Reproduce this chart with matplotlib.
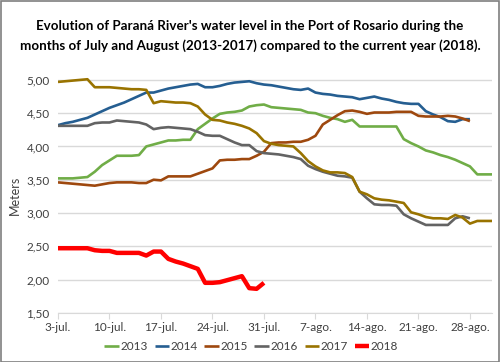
import matplotlib
matplotlib.use("Agg")
import matplotlib.pyplot as plt
from matplotlib.patches import Rectangle

# ---------------- data (days since 3-jul) ----------------
y2013 = [3.52, 3.52, 3.52, 3.53, 3.54, 3.62, 3.72, 3.79, 3.86, 3.86,
         3.86, 3.87, 4.00, 4.03, 4.06, 4.09, 4.09, 4.10, 4.10, 4.26,
         4.34, 4.42, 4.49, 4.51, 4.52, 4.54, 4.60, 4.62, 4.63, 4.59,
         4.58, 4.57, 4.56, 4.55, 4.51, 4.50, 4.46, 4.43, 4.41, 4.37,
         4.40, 4.30, 4.30, 4.30, 4.30, 4.30, 4.30, 4.11, 4.05, 4.00,
         3.94, 3.91, 3.87, 3.84, 3.80, 3.75, 3.70, 3.58, 3.58, 3.58]
y2014 = [4.32, 4.35, 4.37, 4.40, 4.43, 4.48, 4.53, 4.58, 4.62, 4.66,
         4.71, 4.76, 4.81, 4.81, 4.84, 4.87, 4.89, 4.91, 4.93, 4.94,
         4.89, 4.89, 4.91, 4.94, 4.96, 4.97, 4.98, 4.95, 4.93, 4.92,
         4.90, 4.88, 4.86, 4.85, 4.87, 4.81, 4.79, 4.78, 4.76, 4.75,
         4.74, 4.71, 4.73, 4.75, 4.72, 4.70, 4.67, 4.65, 4.64, 4.64,
         4.53, 4.48, 4.44, 4.38, 4.37, 4.41, 4.41]
y2015 = [3.46, 3.45, 3.44, 3.43, 3.42, 3.41, 3.43, 3.45, 3.46, 3.46,
         3.46, 3.45, 3.45, 3.50, 3.49, 3.55, 3.55, 3.55, 3.55, 3.59,
         3.63, 3.67, 3.79, 3.80, 3.80, 3.81, 3.81, 3.86, 3.92, 4.05,
         4.06, 4.06, 4.07, 4.07, 4.10, 4.16, 4.33, 4.40, 4.47, 4.53,
         4.54, 4.52, 4.49, 4.51, 4.51, 4.51, 4.52, 4.52, 4.52, 4.46,
         4.45, 4.45, 4.45, 4.46, 4.45, 4.42, 4.38]
y2016 = [4.31, 4.31, 4.31, 4.31, 4.31, 4.35, 4.36, 4.36, 4.39, 4.38,
         4.37, 4.36, 4.33, 4.26, 4.28, 4.29, 4.28, 4.27, 4.26, 4.22,
         4.17, 4.16, 4.16, 4.11, 4.06, 4.02, 4.02, 3.93, 3.90, 3.89,
         3.88, 3.86, 3.84, 3.81, 3.71, 3.66, 3.62, 3.59, 3.56, 3.55,
         3.53, 3.32, 3.22, 3.13, 3.12, 3.12, 3.11, 2.98, 2.92, 2.87,
         2.82, 2.82, 2.82, 2.82, 2.92, 2.95, 2.92]
y2017 = [4.97, 4.98, 4.99, 5.00, 5.01, 4.89, 4.89, 4.89, 4.88, 4.87,
         4.86, 4.86, 4.85, 4.65, 4.68, 4.67, 4.66, 4.66, 4.65, 4.60,
         4.48, 4.40, 4.39, 4.36, 4.34, 4.31, 4.27, 4.20, 4.08, 4.04,
         4.02, 4.01, 4.00, 3.90, 3.78, 3.70, 3.64, 3.61, 3.61, 3.60,
         3.54, 3.32, 3.28, 3.22, 3.20, 3.19, 3.17, 3.15, 3.01, 2.98,
         2.94, 2.92, 2.92, 2.91, 2.97, 2.93, 2.84, 2.88, 2.88, 2.88]
y2018 = [2.47, 2.47, 2.47, 2.47, 2.47, 2.44, 2.43, 2.43, 2.40, 2.40,
         2.40, 2.40, 2.36, 2.42, 2.42, 2.31, 2.27, 2.24, 2.20, 2.16,
         1.95, 1.95, 1.96, 1.99, 2.02, 2.05, 1.87, 1.86, 1.95]

series_names = ["2013", "2014", "2015", "2016", "2017", "2018"]
series_values = [y2013, y2014, y2015, y2016, y2017, y2018]
series_colors = ["#70AD47", "#255E91", "#9E480E", "#636363", "#997300", "#FF0000"]
series_widths = [1.9, 1.9, 1.9, 1.9, 1.9, 3.2]

tick_days = [0, 7, 14, 21, 28, 35, 42, 49, 56]
tick_labels = ["3-jul.", "10-jul.", "17-jul.", "24-jul.", "31-jul.",
               "7-ago.", "14-ago.", "21-ago.", "28-ago."]
y_ticks = [1.5, 2.0, 2.5, 3.0, 3.5, 4.0, 4.5, 5.0]

title = ("Evolution of Paraná River's water level in the Port of Rosario during the\n"
         "months of July and August (2013-2017) compared to the current year (2018).")

# ---------------- figure ----------------
plt.rcParams['font.family'] = ['Lato', 'DejaVu Sans']
fig = plt.figure(figsize=(5.0, 3.62), dpi=100)
fig.patches.append(Rectangle((0.001, 0.001), 0.996, 0.996, transform=fig.transFigure,
                             fill=False, edgecolor="#7F7F7F", linewidth=1.2))

ax = fig.add_axes([0.116, 0.136, 0.868, 0.68])
for name, vals, col, lw in zip(series_names, series_values, series_colors, series_widths):
    ax.plot(range(len(vals)), vals, color=col, linewidth=lw, label=name,
            solid_joinstyle='round', solid_capstyle='butt')

ax.set_xlim(0, 59)
ax.set_ylim(1.5, 5.2)
ax.set_yticks(y_ticks)
ax.set_yticklabels([f"{v:.2f}".replace(".", ",") for v in y_ticks])
ax.set_xticks(tick_days)
ax.set_xticklabels(tick_labels)
ax.grid(axis='y', color="#D9D9D9", linewidth=1.0)
ax.set_axisbelow(True)
for s in ['top', 'right', 'left']:
    ax.spines[s].set_visible(False)
ax.spines['bottom'].set_color("#D9D9D9")
ax.tick_params(axis='y', length=0, labelsize=8.5, colors="#404040", pad=6)
ax.tick_params(axis='x', length=4, color="#D9D9D9", labelsize=8.5,
               labelcolor="#404040", pad=3)

fig.text(0.5, 0.9, title, ha='center', va='center', fontsize=9.6,
         fontweight='bold', color="#000000", linespacing=1.65)
fig.text(0.03, 0.46, "Meters", rotation=90, ha='center', va='center',
         fontsize=9, color="#404040")

leg = fig.legend(loc='center', bbox_to_anchor=(0.502, 0.042), ncol=6, frameon=False,
                 fontsize=8.5, handlelength=1.2, handletextpad=0.12, columnspacing=0.6,
                 borderaxespad=0)
for t in leg.get_texts():
    t.set_color("#404040")

fig.savefig("out.png", dpi=100)
